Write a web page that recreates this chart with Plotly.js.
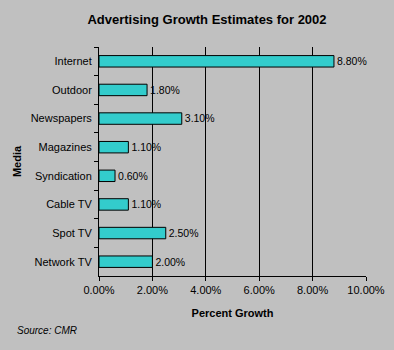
<!DOCTYPE html>
<html>
<head>
<meta charset="utf-8">
<script src="https://cdn.plot.ly/plotly-3.0.1.min.js"></script>
<style>html,body{margin:0;padding:0;background:#c0c0c0;}#chart{width:394px;height:350px;}</style>
</head>
<body>
<div id="chart"></div>
<script>
const categories = ["Internet", "Outdoor", "Newspapers", "Magazines", "Syndication", "Cable TV", "Spot TV", "Network TV"];
const growth = [8.8, 1.8, 3.1, 1.1, 0.6, 1.1, 2.5, 2.0];
const xTicks = [0, 2, 4, 6, 8, 10];
const xTickLabels = ["0.00%", "2.00%", "4.00%", "6.00%", "8.00%", "10.00%"];

const font = "Arial, 'Liberation Sans', sans-serif";

const trace = {
  type: "bar",
  orientation: "h",
  x: growth,
  y: categories,
  text: growth.map(v => v.toFixed(2) + "%"),
  textposition: "outside",
  cliponaxis: false,
  textfont: {family: font, size: 11, color: "#000"},
  marker: {color: "#33cccc", line: {color: "#000", width: 1}},
  hoverinfo: "none"
};

const layout = {
  width: 394, height: 350,
  paper_bgcolor: "#c0c0c0",
  plot_bgcolor: "#c0c0c0",
  margin: {l: 99, r: 28, t: 47, b: 74},
  bargap: 0.6,
  showlegend: false,
  font: {family: font, size: 11, color: "#000"},
  title: {
    text: "<b>Advertising Growth Estimates for 2002</b>",
    font: {family: font, size: 13, color: "#000"},
    x: 207/394, xanchor: "center", y: 1 - 19/350, yanchor: "middle"
  },
  xaxis: {
    range: [0, 10],
    tickvals: xTicks,
    ticktext: xTickLabels,
    showgrid: true, gridcolor: "#000", gridwidth: 1,
    zeroline: false,
    showline: true, linecolor: "#000", linewidth: 1,
    ticks: "outside", ticklen: 4, tickcolor: "#000",
    tickfont: {family: font, size: 11, color: "#000"},
    title: {text: "<b>Percent Growth</b>", font: {family: font, size: 11, color: "#000"}, standoff: 14},
    fixedrange: true
  },
  yaxis: {
    type: "category",
    autorange: "reversed",
    showgrid: false,
    showline: true, linecolor: "#000", linewidth: 1,
    ticks: "outside", ticklen: 4, tickcolor: "#000",
    tickson: "boundaries",
    ticklabelstandoff: 4,
    tickfont: {family: font, size: 11, color: "#000"},
    title: {text: "<b>Media</b>", font: {family: font, size: 11, color: "#000"}, standoff: 6},
    fixedrange: true
  },
  annotations: [{
    text: "<i>Source: CMR</i>",
    xref: "paper", yref: "paper",
    x: -84/267, y: -(330-276)/229,
    xanchor: "left", yanchor: "middle",
    showarrow: false,
    font: {family: font, size: 10, color: "#000"}
  }]
};

Plotly.newPlot("chart", [trace], layout, {displayModeBar: false, staticPlot: true});
</script>
</body>
</html>
